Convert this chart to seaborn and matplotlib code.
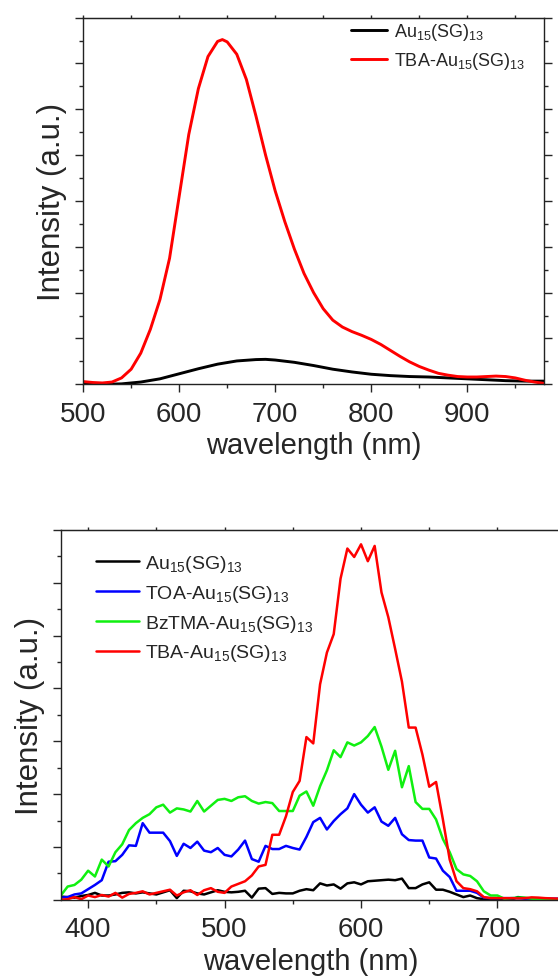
import numpy as np
import pandas as pd
import matplotlib
matplotlib.use("Agg")
import matplotlib.pyplot as plt
from matplotlib.ticker import MultipleLocator
import seaborn as sns

# top panel: emission spectra (500-980 nm)
wl_top_red = [500, 510, 520, 530, 540, 550, 560, 570, 580, 590, 600, 610, 620, 630, 640, 645,
              650, 660, 670, 680, 690, 700, 710, 720, 730, 740, 750, 760, 770, 780, 790, 800,
              810, 820, 830, 840, 850, 860, 870, 880, 890, 900, 910, 920, 930, 940, 950, 960,
              970, 980]
tba_top = [0.06, 0.04, 0.03, 0.05, 0.14, 0.33, 0.68, 1.2, 1.85, 2.75, 4.1, 5.45, 6.45, 7.15, 7.48, 7.52,
           7.47, 7.2, 6.65, 5.85, 5.0, 4.22, 3.55, 2.95, 2.42, 2.0, 1.65, 1.4, 1.25, 1.15, 1.07, 0.98,
           0.87, 0.74, 0.61, 0.49, 0.39, 0.31, 0.24, 0.2, 0.17, 0.16, 0.16, 0.17, 0.18, 0.17, 0.14, 0.09,
           0.05, 0.02]
wl_top_blk = [500, 520, 540, 560, 580, 600, 620, 640, 660, 680, 690, 700, 720, 740, 760, 780,
              800, 820, 840, 860, 880, 900, 920, 940, 960, 980]
au_top = [0.0, 0.0, 0.01, 0.05, 0.12, 0.23, 0.34, 0.44, 0.51, 0.54, 0.545, 0.53, 0.48, 0.41, 0.33, 0.27,
          0.22, 0.19, 0.17, 0.16, 0.14, 0.12, 0.1, 0.08, 0.07, 0.07]

# bottom panel: 380-745 nm, every 5 nm
wl_bot = list(range(380, 750, 5))
au_bot = [0.06, 0.05, 0.04, 0.07, 0.09, 0.13, 0.08, 0.08, 0.10, 0.13, 0.14, 0.12, 0.14, 0.12, 0.10, 0.14,
          0.18, 0.03, 0.17, 0.16, 0.12, 0.10, 0.14, 0.18, 0.15, 0.14, 0.15, 0.17, 0.04, 0.21, 0.22, 0.11,
          0.13, 0.12, 0.12, 0.17, 0.20, 0.18, 0.31, 0.27, 0.29, 0.21, 0.31, 0.33, 0.29, 0.35, 0.36, 0.37,
          0.38, 0.37, 0.40, 0.22, 0.22, 0.29, 0.33, 0.19, 0.19, 0.15, 0.10, 0.05, 0.08, 0.03, 0.01, 0.01,
          0.0, 0.0, 0.0, 0.05, 0.03, 0.02, 0.02, 0.01, 0.01, 0.01]
toa_bot = [0.04, 0.05, 0.10, 0.12, 0.20, 0.28, 0.37, 0.72, 0.73, 0.85, 1.03, 1.02, 1.45, 1.27, 1.27, 1.27,
           1.11, 0.83, 1.06, 0.98, 1.10, 0.93, 0.90, 0.98, 0.85, 0.82, 0.95, 1.12, 0.77, 0.72, 1.02, 0.96,
           0.96, 1.02, 0.98, 0.95, 1.19, 1.47, 1.55, 1.33, 1.49, 1.62, 1.73, 2.00, 1.80, 1.65, 1.75, 1.48,
           1.40, 1.55, 1.24, 1.13, 1.12, 1.12, 0.80, 0.78, 0.55, 0.43, 0.17, 0.17, 0.17, 0.13, 0.04, 0.03,
           0.03, 0.03, 0.03, 0.03, 0.02, 0.02, 0.02, 0.02, 0.02, 0.02]
bztma_bot = [0.08, 0.25, 0.28, 0.38, 0.55, 0.44, 0.76, 0.63, 0.90, 1.05, 1.32, 1.45, 1.55, 1.62, 1.75, 1.80,
             1.65, 1.73, 1.71, 1.67, 1.87, 1.67, 1.78, 1.89, 1.91, 1.87, 1.94, 1.96, 1.87, 1.82, 1.85, 1.83,
             1.68, 1.68, 1.68, 1.97, 2.05, 1.78, 2.15, 2.45, 2.83, 2.70, 2.98, 2.92, 2.98, 3.10, 3.27, 2.90,
             2.46, 2.82, 2.13, 2.53, 1.85, 1.72, 1.72, 1.52, 1.15, 0.90, 0.58, 0.48, 0.45, 0.35, 0.16, 0.08,
             0.08, 0.02, 0.03, 0.04, 0.04, 0.02, 0.01, 0.0, 0.0, 0.0]
tba_bot = [0.0, 0.01, 0.05, 0.01, 0.08, 0.05, 0.09, 0.06, 0.13, 0.04, 0.11, 0.13, 0.16, 0.10, 0.13, 0.16,
           0.19, 0.08, 0.14, 0.18, 0.09, 0.18, 0.22, 0.15, 0.13, 0.25, 0.30, 0.35, 0.46, 0.63, 0.66, 1.23,
           1.23, 1.58, 2.04, 2.25, 3.08, 2.96, 4.08, 4.68, 5.03, 6.08, 6.65, 6.49, 6.73, 6.41, 6.70, 5.82,
           5.35, 4.75, 4.13, 3.26, 3.26, 2.75, 2.14, 2.23, 1.52, 0.76, 0.35, 0.22, 0.20, 0.16, 0.05, 0.03,
           0.03, 0.03, 0.03, 0.025, 0.03, 0.045, 0.04, 0.03, 0.025, 0.02]

lab_au = r'Au$_{15}$(SG)$_{13}$'
lab_toa = r'TOA-Au$_{15}$(SG)$_{13}$'
lab_bz = r'BzTMA-Au$_{15}$(SG)$_{13}$'
lab_tba = r'TBA-Au$_{15}$(SG)$_{13}$'

top = pd.concat([
    pd.DataFrame({'wl': wl_top_blk, 'I': au_top, 'sample': lab_au}),
    pd.DataFrame({'wl': wl_top_red, 'I': tba_top, 'sample': lab_tba}),
])
bot = pd.concat([
    pd.DataFrame({'wl': wl_bot, 'I': au_bot, 'sample': lab_au}),
    pd.DataFrame({'wl': wl_bot, 'I': toa_bot, 'sample': lab_toa}),
    pd.DataFrame({'wl': wl_bot, 'I': bztma_bot, 'sample': lab_bz}),
    pd.DataFrame({'wl': wl_bot, 'I': tba_bot, 'sample': lab_tba}),
])

sns.set_style("ticks")
plt.rcParams['font.family'] = ['Liberation Sans', 'DejaVu Sans']
plt.rcParams['mathtext.fontset'] = 'custom'
plt.rcParams['mathtext.rm'] = 'Liberation Sans'
plt.rcParams['mathtext.it'] = 'Liberation Sans'

fig = plt.figure(figsize=(5.58, 9.78), dpi=100)
ax1 = fig.add_axes([0.149, 0.606, 0.826, 0.375])
ax2 = fig.add_axes([0.109, 0.079, 0.895, 0.378])

pal_top = {lab_au: '#000000', lab_tba: '#ff0000'}
sns.lineplot(data=top, x='wl', y='I', hue='sample', palette=pal_top, lw=2.1, ax=ax1)
pal_bot = {lab_au: '#000000', lab_toa: '#0000ff', lab_bz: '#10f010', lab_tba: '#ff0000'}
sns.lineplot(data=bot, x='wl', y='I', hue='sample', palette=pal_bot, lw=1.8, ax=ax2)

ax1.set_xlim(500, 980)
ax1.set_ylim(0, 8)
ax2.set_xlim(380, 746)
ax2.set_ylim(0, 7)

for ax in (ax1, ax2):
    ax.xaxis.set_major_locator(MultipleLocator(100))
    ax.xaxis.set_minor_locator(MultipleLocator(50))
    ax.yaxis.set_major_locator(MultipleLocator(1))
    ax.yaxis.set_minor_locator(MultipleLocator(0.5))
    ax.tick_params(axis='x', which='major', direction='out', length=6, width=1, labelsize=20, pad=6)
    ax.tick_params(axis='x', which='minor', direction='out', length=3, width=1)
    ax.tick_params(axis='y', which='major', direction='out', length=6, width=1, labelleft=False)
    ax.tick_params(axis='y', which='minor', direction='out', length=3, width=1)
    for s in ax.spines.values():
        s.set_visible(True)
        s.set_linewidth(1.0)
        s.set_color('#222222')
    ax.set_xlabel('wavelength (nm)', fontsize=21, labelpad=3)
    ax.set_ylabel('Intensity (a.u.)', fontsize=22.5, labelpad=5)
    # small ticks along the top frame
    sec = ax.secondary_xaxis('top')
    sec.xaxis.set_major_locator(MultipleLocator(100))
    sec.xaxis.set_minor_locator(MultipleLocator(50))
    sec.tick_params(which='both', direction='out', length=2, width=1, labeltop=False)

ax1.tick_params(axis='y', which='both', right=True)

ax1.legend(frameon=False, loc='upper right', fontsize=13, handlelength=2.0,
           handletextpad=0.4, labelspacing=0.45, bbox_to_anchor=(0.995, 1.035))
ax2.legend(frameon=False, loc='upper left', fontsize=14, handlelength=2.2,
           handletextpad=0.3, labelspacing=0.45, bbox_to_anchor=(0.036, 0.985))

fig.savefig('out.png', dpi=100)
